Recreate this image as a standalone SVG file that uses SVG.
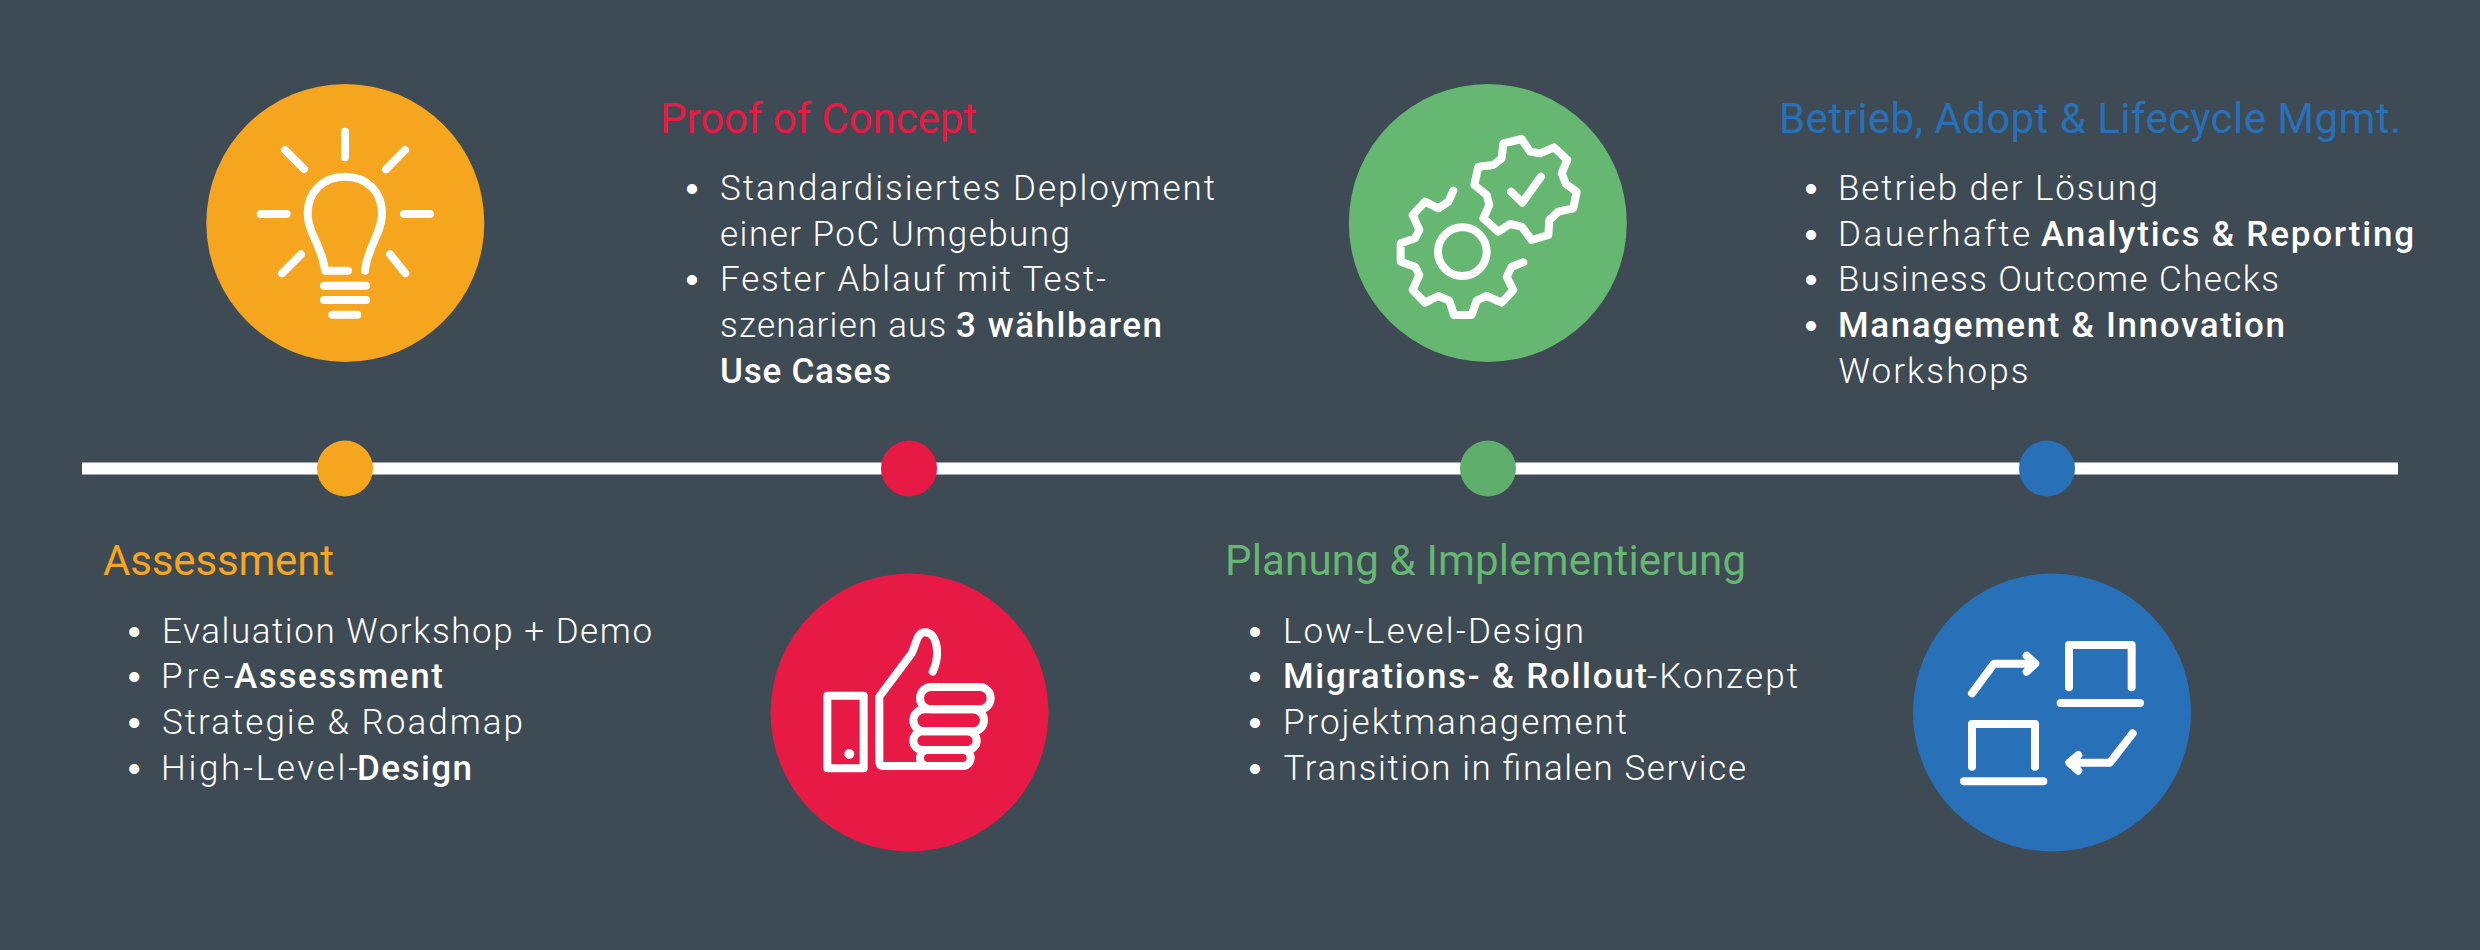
<svg xmlns="http://www.w3.org/2000/svg" width="2480" height="950" viewBox="0 0 2480 950">
<style>
text{font-family:"Roboto","Liberation Sans",sans-serif}
.t{font-size:42px;font-weight:400}
.l{font-size:35px;font-weight:300;fill:#fff}
.b{font-weight:500}
.bu{font-family:"Liberation Sans",sans-serif;font-size:37px;fill:#fff;text-anchor:middle}
.i{fill:none;stroke:#fff;stroke-width:24;stroke-linecap:round;stroke-linejoin:round}
.y{fill:#f6a51e}.r{fill:#e71a45}.g{fill:#65b771}.u{fill:#2871b8}.g2{fill:#5fae6b}
</style>
<rect width="2480" height="950" fill="#3e4a54"/>
<g id="connectors"><rect id="timeline" x="82" y="462.500" width="2316" height="12" fill="#fff"/></g>
<g id="dot-assessment"><circle class="y" cx="345" cy="468.500" r="28"/></g>
<g id="dot-poc"><circle class="r" cx="909" cy="468.500" r="28"/></g>
<g id="dot-impl"><circle class="g2" cx="1488" cy="468.500" r="28"/></g>
<g id="dot-ops"><circle class="u" cx="2047" cy="468.500" r="28"/></g>
<g id="icon-bulb"><circle class="y" cx="345.300" cy="223" r="139"/>
<path class="i" transform="translate(180 60) scale(.33333)" d="M495 215V292M315 270L372 327M675 270L618 328M242 462H320M672 462H750M363 583L306 640M630 583L676 640M504 632H435C428 560 383 520 383 460C383 395 430 350 495 350C560 350 606 395 606 460C606 520 562 560 555 632M432 677H558M432 720H558M457 764H532"/></g>
<g id="icon-gears"><circle class="g" cx="1487.800" cy="223" r="139"/>
<g class="i" transform="translate(1330 60) scale(.33333)"><path d="M370 392L355 425L325 445L285 425L248 465L268 510L255 535L212 550V605L255 620L268 645L248 690L285 728L325 708L358 722L372 765H425L440 722L470 708L515 728L550 690L530 650L545 620L580 607"/><circle cx="397" cy="575" r="73"/><path d="M520 250L575 237L600 275L630 280L672 262L712 300L695 340L708 372L740 395L730 445L685 455L658 480L655 525L605 540L575 500L540 492L505 515L460 475L478 435L470 405L433 375L445 320L490 315L515 295ZM543 395L577 428L633 350"/></g></g>
<g id="icon-thumb"><circle class="r" cx="909.500" cy="712.500" r="139"/>
<g class="i" transform="translate(760 570) scale(.33333)"><rect x="202" y="377" width="109" height="218"/><circle cx="268" cy="552" r="15" fill="#fff" stroke="none"/><path d="M518 305C540 260 535 187 495 187C470 187 470 220 455 250L358 380V575Q358 588 370 588H608"/><rect x="480" y="351" width="212" height="67" rx="33"/><rect x="460" y="418" width="212" height="66" rx="33"/><rect x="460" y="484" width="190" height="56" rx="28"/><rect x="480" y="540" width="152" height="48" rx="24"/></g></g>
<g id="icon-exchange"><circle class="u" cx="2052" cy="712.500" r="139"/>
<path class="i" transform="translate(1910 570) scale(.33333)" d="M477 352V225H665V352M452 399H690M186 590V462H375V590M162 634H400M186 370L252 281H368M350 257L376 281L350 305M668 490L600 578H485M505 555L478 578L505 602"/></g>
<g id="assessment">
<text class="t y" x="103" y="575" textLength="231">Assessment</text>
<text class="bu" x="134.300" y="643.700">•</text><text class="l" y="642.700"><tspan x="162" textLength="490">Evaluation Workshop + Demo</tspan></text>
<text class="bu" x="134.300" y="689.300">•</text><text class="l" y="688.300"><tspan x="161" textLength="73">Pre-</tspan><tspan class="b" x="234" textLength="209">Assessment</tspan></text>
<text class="bu" x="134.300" y="734.900">•</text><text class="l" y="733.900"><tspan x="162" textLength="361">Strategie &amp; Roadmap</tspan></text>
<text class="bu" x="134.300" y="780.500">•</text><text class="l" y="779.500"><tspan x="161" textLength="197">High-Level-</tspan><tspan class="b" x="357" textLength="115">Design</tspan></text>
</g>
<g id="poc">
<text class="t r" x="660" y="132.700" textLength="317">Proof of Concept</text>
<text class="bu" x="692" y="201">•</text><text class="l" y="200"><tspan x="720" textLength="495">Standardisiertes Deployment</tspan></text>
<text class="l" y="245.600"><tspan x="720" textLength="350">einer PoC Umgebung</tspan></text>
<text class="bu" x="692" y="292.200">•</text><text class="l" y="291.200"><tspan x="720" textLength="386">Fester Ablauf mit Test-</tspan></text>
<text class="l" y="336.800"><tspan x="720" textLength="236">szenarien aus </tspan><tspan class="b" x="956" textLength="206">3 wählbaren</tspan></text>
<text class="l b" y="382.800"><tspan x="720" textLength="171">Use Cases</tspan></text>
</g>
<g id="impl">
<text class="t g" x="1225" y="575" textLength="521">Planung &amp; Implementierung</text>
<text class="bu" x="1255" y="643.700">•</text><text class="l" y="642.700"><tspan x="1283" textLength="301">Low-Level-Design</tspan></text>
<text class="bu" x="1255" y="689.300">•</text><text class="l" y="688.300"><tspan class="b" x="1283" textLength="364">Migrations- &amp; Rollout</tspan><tspan x="1647" textLength="151">-Konzept</tspan></text>
<text class="bu" x="1255" y="734.900">•</text><text class="l" y="733.900"><tspan x="1283" textLength="344">Projektmanagement</tspan></text>
<text class="bu" x="1255" y="780.500">•</text><text class="l" y="779.500"><tspan x="1283.500" textLength="462.500">Transition in finalen Service</tspan></text>
</g>
<g id="ops">
<text class="t u" x="1779" y="132.700" textLength="622">Betrieb, Adopt &amp; Lifecycle Mgmt.</text>
<text class="bu" x="1811" y="201">•</text><text class="l" y="200"><tspan x="1838" textLength="320">Betrieb der Lösung</tspan></text>
<text class="bu" x="1811" y="246.600">•</text><text class="l" y="245.600"><tspan x="1838" textLength="203">Dauerhafte </tspan><tspan class="b" x="2041" textLength="373">Analytics &amp; Reporting</tspan></text>
<text class="bu" x="1811" y="292.200">•</text><text class="l" y="291.200"><tspan x="1838" textLength="441">Business Outcome Checks</tspan></text>
<text class="bu" x="1811" y="337.800">•</text><text class="l b" y="336.800"><tspan x="1838" textLength="447">Management &amp; Innovation</tspan></text>
<text class="l" y="382.800"><tspan x="1838.500" textLength="190">Workshops</tspan></text>
</g>
</svg>
